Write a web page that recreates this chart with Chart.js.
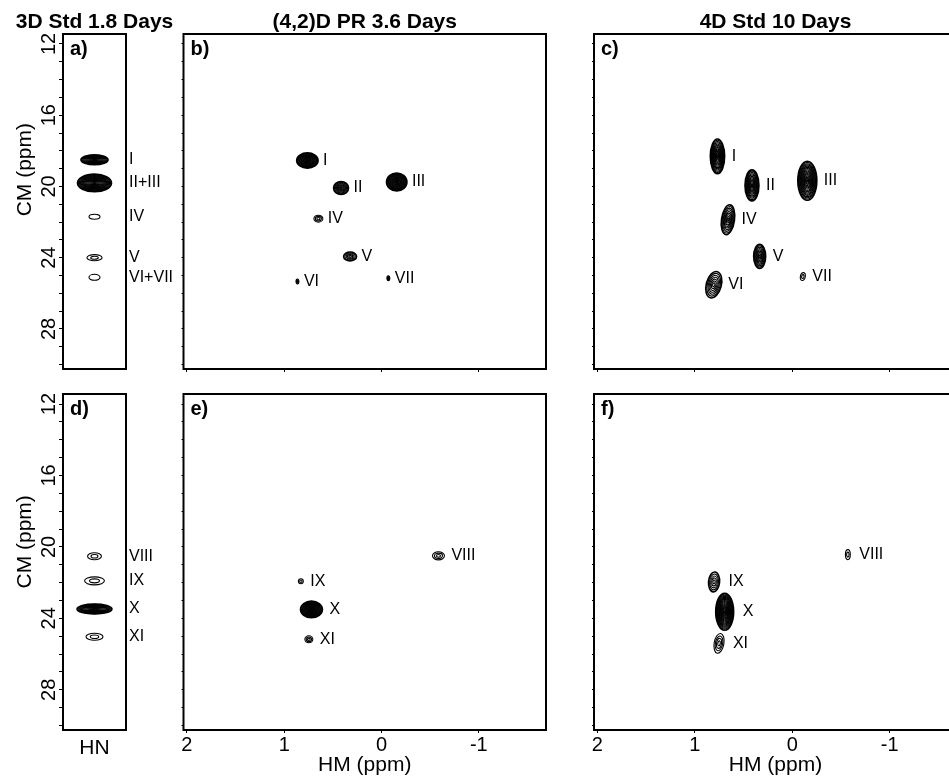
<!DOCTYPE html>
<html>
<head>
<meta charset="utf-8">
<script src="https://cdn.jsdelivr.net/npm/chart.js@4/dist/chart.umd.min.js"></script>
<style>
  html, body { margin: 0; padding: 0; background: #fff; overflow: hidden; width: 949px; height: 778px; }
  canvas { position: absolute; left: 0; top: 0; }
</style>
</head>
<body>
<canvas id="js--a" width="1000" height="800"></canvas>
<canvas id="js--b" width="1000" height="800"></canvas>
<canvas id="js--c" width="1000" height="800"></canvas>
<canvas id="js--d" width="1000" height="800"></canvas>
<canvas id="js--e" width="1000" height="800"></canvas>
<canvas id="js--f" width="1000" height="800"></canvas>
<script>
// CM (ppm) axis, the same in every panel
const cmTicks = [12, 16, 20, 24, 28];
const cmRange = [11.44, 30.25];
// HM (ppm) axis of the (4,2)D and 4D panels
const hmTicks = [2, 1, 0, -1];
const hmRange = [-1.69, 2.035];
// the 3D panels are one HN strip, peaks sit in the middle of it
const stripRange = [-1, 1];

// a) 3D Std 1.8 Days
const aLabels = ["I", "II+III", "IV", "V", "VI+VII"];
const aHN = [0, 0, 0, 0, 0];
const aCM = [18.5, 19.8, 21.7, 24.0, 25.1];
const aWidthHN = [0.86, 1.08, 0.35, 0.48, 0.35];
const aWidthCM = [0.56, 1.0, 0.28, 0.34, 0.34];
const aLevels = [14, 18, 1, 2, 1];

// b) (4,2)D PR 3.6 Days
const topLabels = ["I", "II", "III", "IV", "V", "VI", "VII"];
const bHM = [0.762, 0.416, -0.156, 0.649, 0.323, 0.864, -0.07];
const bCM = [18.54, 20.09, 19.75, 21.81, 23.93, 25.34, 25.15];
const bWidthHM = [0.22, 0.154, 0.21, 0.092, 0.133, 0.03, 0.03];
const bWidthCM = [0.86, 0.73, 1.0, 0.39, 0.5, 0.28, 0.28];
const bLevels = [16, 8, 16, 3, 5, 3, 3];

// c) 4D Std 10 Days
const cHM = [0.768, 0.414, -0.154, 0.66, 0.335, 0.806, -0.108];
const cCM = [18.31, 19.94, 19.68, 21.87, 23.93, 25.52, 25.06];
const cWidthHM = [0.147, 0.143, 0.195, 0.133, 0.123, 0.154, 0.05];
const cWidthCM = [1.95, 1.74, 2.19, 1.69, 1.35, 1.52, 0.45];
const cLevels = [14, 12, 16, 9, 9, 7, 2];
const cTilt = [0, 0, 0, 8, 0, 15, 10];

// d) 3D strip, methyls VIII-XI
const dLabels = ["VIII", "IX", "X", "XI"];
const dHN = [0, 0, 0, 0];
const dCM = [20.52, 21.9, 23.48, 25.03];
const dWidthHN = [0.44, 0.63, 1.11, 0.54];
const dWidthCM = [0.39, 0.45, 0.56, 0.39];
const dLevels = [2, 2, 16, 2];

// e) (4,2)D PR
const eHM = [-0.585, 0.829, 0.72, 0.747];
const eCM = [20.50, 21.92, 23.5, 25.17];
const eWidthHM = [0.123, 0.05, 0.225, 0.082];
const eWidthCM = [0.45, 0.28, 0.93, 0.39];
const eLevels = [3, 2, 18, 3];

// f) 4D Std
const fHM = [-0.57, 0.803, 0.694, 0.752];
const fCM = [20.43, 21.96, 23.63, 25.40];
const fWidthHM = [0.05, 0.113, 0.184, 0.1];
const fWidthCM = [0.56, 1.12, 2.07, 1.12];
const fLevels = [2, 5, 18, 4];
const fTilt = [0, 5, 0, 10];

const FONT = "'Liberation Sans', Arial, Helvetica, sans-serif";
Chart.defaults.font.family = FONT;
Chart.defaults.color = "#000";

function peaks(labels, hm, cm, wHM, wCM, levels, tilt) {
    return labels.map(function (label, i) {
        return { x: hm[i], y: cm[i], wx: wHM[i], wy: wCM[i], n: levels[i], tilt: tilt ? tilt[i] : 0, label: label };
    });
}

// contour rings for every peak, placed by the chart's own scales
const contourPlugin = {
    id: "contours",
    afterDatasetsDraw(chart) {
        const ctx = chart.ctx;
        const xs = chart.scales.x;
        const ys = chart.scales.y;
        const o = chart.options.plugins.panel;
        const area = chart.chartArea;
        chart.data.datasets.forEach(function (ds, i) {
            const meta = chart.getDatasetMeta(i);
            meta.data.forEach(function (pt, j) {
                const d = ds.data[j];
                const rx = Math.abs(xs.getPixelForValue(d.x + d.wx / 2) - xs.getPixelForValue(d.x));
                const ry = Math.abs(ys.getPixelForValue(d.y + d.wy / 2) - ys.getPixelForValue(d.y));
                ctx.save();
                ctx.translate(pt.x, pt.y);
                ctx.rotate(d.tilt * Math.PI / 180);
                ctx.strokeStyle = "#000";
                for (let k = 0; k < d.n; k++) {
                    const f = 1 - k / d.n;
                    ctx.lineWidth = k === 0 && d.n > 4 ? 1.6 : 1.1;
                    ctx.beginPath();
                    ctx.ellipse(0, 0, Math.max(rx * f, 0.6), Math.max(ry * f, 0.6), 0, 0, 2 * Math.PI);
                    ctx.stroke();
                }
                ctx.restore();

                ctx.save();
                ctx.fillStyle = "#000";
                ctx.font = "16px " + FONT;
                ctx.textAlign = "left";
                ctx.textBaseline = "middle";
                const lx = o.strip ? area.right + 3 : pt.x + rx + o.labelGap;
                ctx.fillText(d.label, lx, pt.y);
                ctx.restore();
            });
        });
    }
};

// frame, panel letter, column title and CM axis title
const panelPlugin = {
    id: "panel",
    afterDraw(chart) {
        const o = chart.options.plugins.panel;
        const a = chart.chartArea;
        const ctx = chart.ctx;
        ctx.save();
        ctx.strokeStyle = "#000";
        ctx.lineWidth = 2;
        ctx.strokeRect(a.left, a.top, a.right - a.left, a.bottom - a.top);
        ctx.fillStyle = "#000";
        ctx.textBaseline = "alphabetic";
        ctx.font = "bold 20px " + FONT;
        ctx.textAlign = "left";
        ctx.fillText(o.letter, a.left + 7, a.top + 21);
        if (o.title) {
            ctx.font = "bold 21px " + FONT;
            ctx.textAlign = "center";
            ctx.fillText(o.title, (a.left + a.right) / 2, a.top - 6);
        }
        if (o.yTitle) {
            ctx.translate(a.left - 38, a.top + o.yTitlePos * (a.bottom - a.top));
            ctx.rotate(-Math.PI / 2);
            ctx.font = "21px " + FONT;
            ctx.textAlign = "center";
            ctx.textBaseline = "middle";
            ctx.fillText(o.yTitle, 0, 0);
        }
        ctx.restore();
    }
};

function makePanel(id, box, data, opts) {
    const W = 1000, H = 800;
    const xAxisH = opts.xAxisH || 0;
    const yAxisW = opts.strip ? 30 : 0;
    const range = opts.strip ? stripRange : hmRange;
    const config = {
        type: "scatter",
        data: {
            datasets: [{ data: data, pointRadius: 0, pointHoverRadius: 0, showLine: false }]
        },
        options: {
            responsive: false,
            animation: false,
            events: [],
            layout: { padding: { left: box[0] - yAxisW, top: box[1], right: W - box[2], bottom: H - box[3] - xAxisH } },
            plugins: {
                legend: { display: false },
                tooltip: { enabled: false },
                panel: opts
            },
            scales: {
                x: {
                    type: "linear",
                    min: range[0],
                    max: range[1],
                    reverse: !opts.strip,
                    afterBuildTicks: function (s) {
                        if (!opts.strip) s.ticks = hmTicks.map(function (v) { return { value: v }; });
                    },
                    afterFit: function (s) { s.height = xAxisH; },
                    grid: { display: !opts.strip, drawOnChartArea: false, tickLength: 3, color: "#000" },
                    border: { display: false },
                    ticks: { display: !!opts.xLabels, padding: 0, maxRotation: 0, autoSkip: false, font: { size: 20 } },
                    title: { display: !!opts.xTitle, text: opts.xTitle, font: { size: 21 }, padding: 0 }
                },
                y: {
                    type: "linear",
                    position: "left",
                    min: cmRange[0],
                    max: cmRange[1],
                    reverse: true,
                    afterFit: function (s) { s.width = yAxisW; },
                    ticks: {
                        display: !!opts.strip,
                        stepSize: 1,
                        includeBounds: false,
                        autoSkip: false,
                        minRotation: 90,
                        maxRotation: 90,
                        crossAlign: "center",
                        padding: -2,
                        font: { size: 20 },
                        callback: function (v) { return cmTicks.includes(v) ? String(v) : ""; }
                    },
                    grid: { drawOnChartArea: false, tickLength: opts.strip ? 4 : 2, color: "#000" },
                    border: { display: false }
                }
            }
        },
        plugins: [contourPlugin, panelPlugin]
    };
    return new Chart(document.getElementById(id), config);
}

makePanel("js--a", [63, 34, 126, 369],
    peaks(aLabels, aHN, aCM, aWidthHN, aWidthCM, aLevels),
    { letter: "a)", title: "3D Std 1.8 Days", strip: true, yTitle: "CM (ppm)", yTitlePos: 0.405 });

makePanel("js--b", [183.5, 34, 546, 369],
    peaks(topLabels, bHM, bCM, bWidthHM, bWidthCM, bLevels),
    { letter: "b)", title: "(4,2)D PR 3.6 Days", labelGap: 5 });

makePanel("js--c", [594, 34, 957, 369],
    peaks(topLabels, cHM, cCM, cWidthHM, cWidthCM, cLevels, cTilt),
    { letter: "c)", title: "4D Std 10 Days", labelGap: 7 });

makePanel("js--d", [63, 394, 126, 730],
    peaks(dLabels, dHN, dCM, dWidthHN, dWidthCM, dLevels),
    { letter: "d)", strip: true, yTitle: "CM (ppm)", yTitlePos: 0.44, xTitle: "HN", xAxisH: 31 });

makePanel("js--e", [183.5, 394, 546, 730],
    peaks(dLabels, eHM, eCM, eWidthHM, eWidthCM, eLevels),
    { letter: "e)", labelGap: 7, xLabels: true, xTitle: "HM (ppm)", xAxisH: 48 });

makePanel("js--f", [594, 394, 957, 730],
    peaks(dLabels, fHM, fCM, fWidthHM, fWidthCM, fLevels, fTilt),
    { letter: "f)", labelGap: 9, xLabels: true, xTitle: "HM (ppm)", xAxisH: 48 });
</script>
</body>
</html>
